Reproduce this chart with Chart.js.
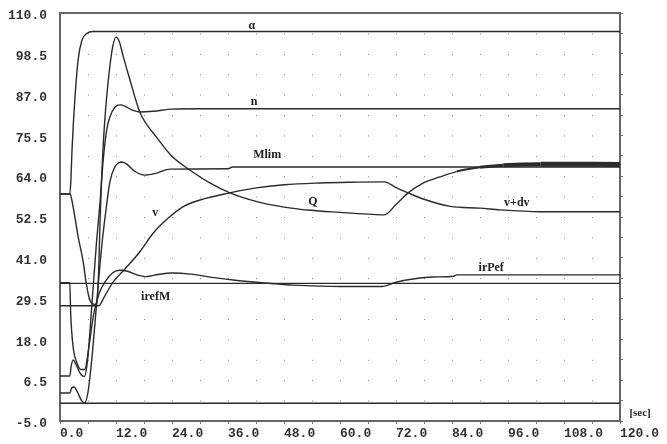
<!DOCTYPE html>
<html>
<head>
<meta charset="utf-8">
<script src="https://cdn.jsdelivr.net/npm/chart.js@4.4.0/dist/chart.umd.min.js"></script>
<style>
  html, body { margin: 0; padding: 0; background: #fff; }
</style>
</head>
<body>
<canvas id="chart" width="667" height="444"></canvas>
<script>
// tick labels
const xTickLabels = ["0.0", "12.0", "24.0", "36.0", "48.0", "60.0", "72.0", "84.0", "96.0", "108.0", "120.0"];
const yTickLabels = ["-5.0", "6.5", "18.0", "29.5", "41.0", "52.5", "64.0", "75.5", "87.0", "98.5", "110.0"];

// series: [t (sec), value]
const alpha = [[0, 59], [2.1, 59], [2.3, 62], [2.6, 72], [3.2, 86], [3.9, 97], [4.7, 102.3], [5.8, 104.3], [7, 104.8], [120, 104.8]];
const qCurve = [[0, 59], [2.2, 59], [2.5, 57.5], [3.2, 52.4], [3.9, 46.8], [4.9, 40.4], [5.6, 34], [6.3, 29.5], [7, 28], [7.9, 27.8],
  [8.3, 38], [8.6, 52], [8.9, 63], [9.6, 79.8], [10.6, 94], [11.3, 100.5], [12, 103.2], [12.7, 102], [13.5, 98], [15, 91.1],
  [17.1, 82.1], [20.8, 74.8], [24, 69.6], [27.2, 66.3], [32.1, 62.1], [36.4, 59.3], [42, 56.9], [48, 55.3], [53.6, 54.4],
  [60, 53.8], [66, 53.3], [69.5, 53.1], [72, 56], [74.6, 59.3], [78, 62.2], [81.4, 63.8], [85, 65.3], [90, 66.5], [95, 67.1],
  [103, 67.4], [120, 67.3]];
const nCurve = [[0, 7.7], [2.1, 7.7], [2.4, 10.5], [2.8, 12.2], [3.4, 11], [4.3, 8.5], [5.2, 7.5], [5.9, 12], [6.9, 29], [7.8, 45],
  [8.6, 57], [9.2, 67.7], [10, 77], [10.7, 80.7], [11.8, 83.5], [12.9, 84.1], [14, 83.7], [15.5, 82.6], [17, 82.1], [20, 82.3],
  [24, 82.9], [30, 83], [120, 83]];
const mlim = [[0, 2.9], [2.1, 2.9], [2.5, 4.3], [3, 4.6], [3.8, 3], [4.6, 0.8], [5.3, 0.1], [6.1, 4], [7, 15], [7.9, 29], [9, 45],
  [10, 56], [10.7, 62.5], [11.7, 66.5], [12.6, 67.8], [13.3, 68], [14.5, 67.2], [16, 65.4], [18.2, 64.3], [20.5, 64.8],
  [23.6, 66], [36, 66.1], [37, 66.6], [120, 66.6]];
const vCurve = [[0, 27.5], [8.3, 27.5], [9.5, 30], [11.4, 34.2], [14, 38], [17, 42.5], [20, 48], [23.2, 52.2], [26.5, 55.5],
  [30, 57.3], [36.4, 59.3], [42, 60.7], [48, 61.6], [55.7, 62.1], [62, 62.3], [69.5, 62.4], [72, 60.8], [74.6, 59.3],
  [78, 57.5], [83.6, 55.5], [90, 55], [94.3, 54.5], [103, 54], [120, 54]];
const irPef = [[0, 34], [2.1, 34], [2.3, 25], [2.8, 16], [3.6, 11.5], [4.5, 9.5], [5.3, 9.5], [6.2, 16], [7.2, 25], [8.4, 31],
  [9.8, 34.5], [11.3, 36.8], [12.8, 37.5], [14.5, 37.2], [16.5, 36.2], [18.5, 35.7], [21, 36.3], [24, 36.7], [28, 36.4],
  [33, 35.4], [38, 34.6], [44, 33.9], [50, 33.3], [60, 32.9], [69, 32.9], [72, 34.1], [76, 35.1], [80, 35.6], [84.3, 35.8],
  [85, 36.2], [120, 36.2]];
const irefM = [[0, 33.8], [120, 33.8]];
const zeroLine = [[0, 0], [120, 0]];

// curve names written on the plot
const curveNotes = [
  { text: "α", t: 41.1, v: 106.3 },
  { text: "n", t: 41.6, v: 84.9 },
  { text: "Mlim", t: 44.4, v: 70 },
  { text: "v", t: 20.4, v: 53.6 },
  { text: "Q", t: 54.2, v: 56.7 },
  { text: "v+dv", t: 97.9, v: 56.4 },
  { text: "irPef", t: 92.4, v: 38.1 },
  { text: "irefM", t: 20.5, v: 30 },
  { text: "[sec]", t: 124.3, v: -2.7 },
];

const LINE = "#2b2b2b";
const FRAME = "#666";

const notesPlugin = {
  id: "curveNotes",
  afterDraw(chart) {
    const { ctx } = chart;
    const x = chart.scales.x;
    const y = chart.scales.y;
    ctx.save();
    ctx.fillStyle = "#222";
    ctx.textAlign = "center";
    ctx.textBaseline = "middle";
    curveNotes.forEach((n) => {
      ctx.font = n.text === "[sec]" ? "bold 11px 'Liberation Serif'" : "bold 12px 'Liberation Serif'";
      ctx.fillText(n.text, x.getPixelForValue(n.t), y.getPixelForValue(n.v));
    });
    ctx.restore();
  },
};

function series(data, extra) {
  return Object.assign({
    data,
    borderColor: LINE,
    borderWidth: 1.4,
    pointRadius: 0,
    fill: false,
    cubicInterpolationMode: "monotone",
  }, extra || {});
}

// Q gets a smeared (thick) trace at the end of the run
function qWidth(c) {
  const t = c.p0.parsed.x;
  if (t >= 103) return 5;
  if (t >= 95) return 4;
  if (t >= 90) return 3;
  if (t >= 85) return 2;
  return 1.4;
}

const tickFont = { family: "'Liberation Mono'", size: 13, weight: "bold" };

new Chart(document.getElementById("chart"), {
  type: "line",
  data: {
    datasets: [
      series(alpha),
      series(qCurve, { segment: { borderWidth: qWidth } }),
      series(nCurve),
      series(mlim),
      series(vCurve),
      series(irPef),
      series(irefM),
      series(zeroLine),
    ],
  },
  options: {
    responsive: false,
    animation: false,
    devicePixelRatio: 1,
    layout: { padding: 0 },
    plugins: { legend: { display: false }, tooltip: { enabled: false } },
    scales: {
      x: {
        type: "linear",
        position: "bottom",
        min: 0,
        max: 120,
        afterFit: (s) => { s.height = 23; },
        ticks: {
          stepSize: 6,
          autoSkip: false,
          maxRotation: 0,
          align: "start",
          padding: 2,
          font: tickFont,
          color: "#333",
          callback: (v, i) => (i % 2 === 0 ? xTickLabels[i / 2] : ""),
        },
        grid: {
          color: "#8a8a8a",
          lineWidth: 1,
          drawTicks: true,
          tickLength: 3,
          tickColor: "#777",
          tickBorderDash: [],
        },
        border: { display: true, color: FRAME, width: 2, dash: [1, 19.4] },
      },
      x2: {
        type: "linear",
        position: "top",
        min: 0,
        max: 120,
        afterFit: (s) => { s.height = 13; },
        ticks: { display: false },
        grid: { display: false },
        border: { display: true, color: FRAME, width: 2 },
      },
      y: {
        type: "linear",
        position: "left",
        min: -5,
        max: 110,
        afterFit: (s) => { s.width = 60; },
        ticks: {
          stepSize: 5.75,
          autoSkip: false,
          padding: 5,
          labelOffset: 3,
          font: tickFont,
          color: "#333",
          callback: (v, i) => (i % 2 === 0 ? yTickLabels[i / 2] : ""),
        },
        grid: { display: false },
        border: { display: true, color: FRAME, width: 2 },
      },
      y2: {
        type: "linear",
        position: "right",
        min: -5,
        max: 110,
        afterFit: (s) => { s.width = 47; },
        ticks: { display: false, stepSize: 5.75 },
        grid: { display: true, drawOnChartArea: false, drawTicks: true, tickLength: 3, color: "#777" },
        border: { display: true, color: FRAME, width: 2 },
      },
    },
  },
  plugins: [notesPlugin],
});
</script>
</body>
</html>
